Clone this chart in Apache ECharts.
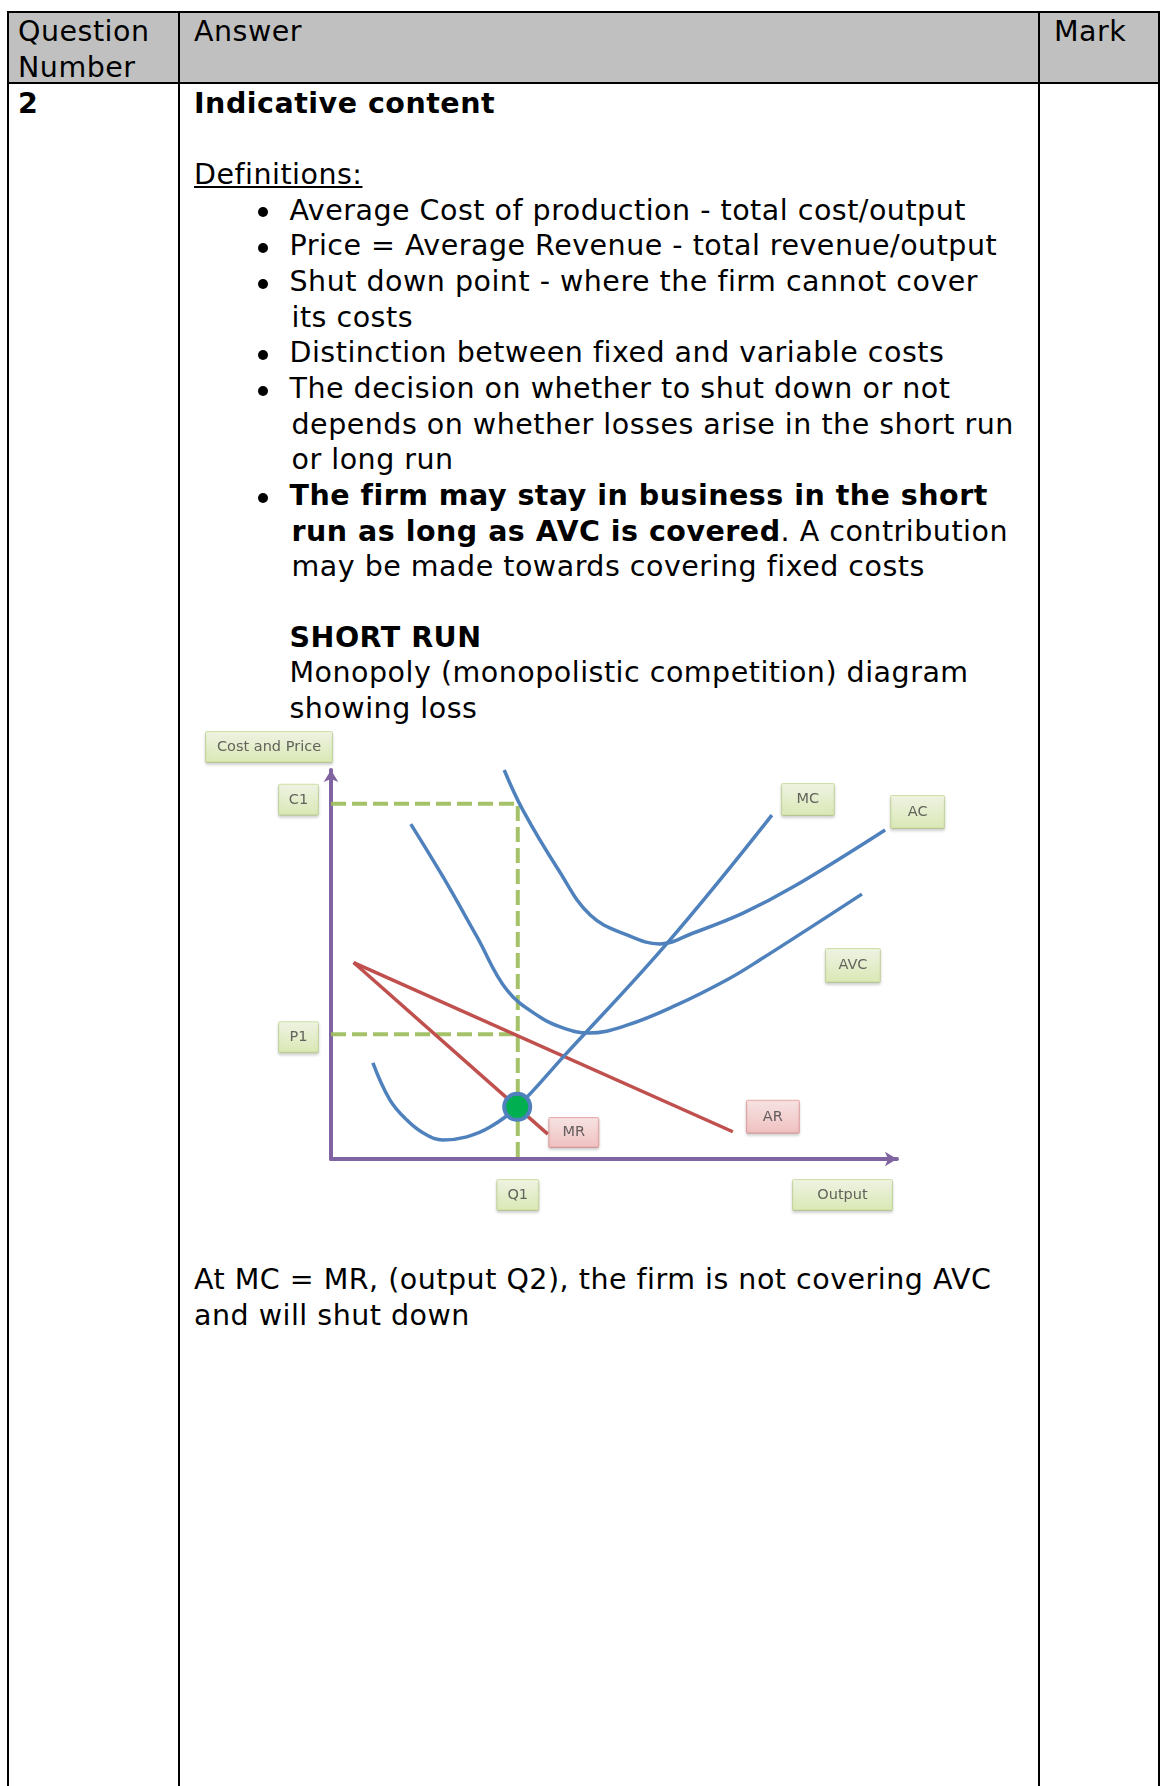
<!DOCTYPE html>
<html>
<head>
<meta charset="utf-8">
<script src="https://cdn.jsdelivr.net/npm/echarts@6/dist/echarts.min.js"></script>
<style>
  html, body { margin:0; padding:0; background:#fff; }
  body { width:1161px; height:1786px; position:relative; overflow:hidden; }
  .ln { position:absolute; background:#000; }
  .t { position:absolute; font-family:"DejaVu Sans", Verdana, sans-serif; font-size:28.5px; line-height:35.6px;
       letter-spacing:0.5px; white-space:nowrap; color:#000; }
  .b { position:absolute; width:10px; height:10px; border-radius:50%; background:#000; }
  #chart { position:absolute; left:180px; top:720px; width:800px; height:520px; }
</style>
</head>
<body>
<!-- header background -->
<div style="position:absolute;left:9px;top:13px;width:1149px;height:69px;background:#c0c0c0;"></div>
<!-- table lines -->
<div class="ln" style="left:7px;top:11px;width:1153px;height:2px;"></div>
<div class="ln" style="left:7px;top:82px;width:1153px;height:2px;"></div>
<div class="ln" style="left:7px;top:11px;width:2px;height:1775px;"></div>
<div class="ln" style="left:178px;top:11px;width:2px;height:1775px;"></div>
<div class="ln" style="left:1038px;top:11px;width:2px;height:1775px;"></div>
<div class="ln" style="left:1158px;top:11px;width:2px;height:1775px;"></div>

<div id="text"></div>
<div id="chart"></div>

<script>
// ---------- text content (real text) ----------
const textLines = [
  // [x, baseline, html, bullet]
  [18, 41.7, 'Question', false],
  [18, 77.5, 'Number', false],
  [194, 41.7, 'Answer', false],
  [1054, 41.7, 'Mark', false],
  [18, 114, '<b>2</b>', false],
  [194, 114, '<b>Indicative content</b>', false],
  [194, 184.6, '<u>Definitions:</u>', false],
  [289.5, 220.3, 'Average Cost of production - total cost/output', true],
  [289.5, 256.0, 'Price = Average Revenue - total revenue/output', true],
  [289.5, 291.6, 'Shut down point - where the firm cannot cover', true],
  [291.5, 327.3, 'its costs', false],
  [289.5, 363.0, 'Distinction between fixed and variable costs', true],
  [289.5, 398.6, 'The decision on whether to shut down or not', true],
  [291.5, 434.3, 'depends on whether losses arise in the short run', false],
  [291.5, 470.0, 'or long run', false],
  [289.5, 505.7, '<b>The firm may stay in business in the short</b>', true],
  [291.5, 541.3, '<b>run as long as AVC is covered</b>. A contribution', false],
  [291.5, 577.0, 'may be made towards covering fixed costs', false],
  [289.5, 647.3, '<b>SHORT RUN</b>', false],
  [289.5, 683.0, 'Monopoly (monopolistic competition) diagram', false],
  [289.5, 718.7, 'showing loss', false],
  [194, 1289.5, 'At MC = MR, (output Q2), the firm is not covering AVC', false],
  [194, 1326.0, 'and will shut down', false]
];
const tc = document.getElementById('text');
textLines.forEach(function (l) {
  const d = document.createElement('div');
  d.className = 't';
  d.style.left = l[0] + 'px';
  d.style.top = (l[1] - 27.65) + 'px';
  d.innerHTML = l[2];
  tc.appendChild(d);
  if (l[3]) {
    const b = document.createElement('div');
    b.className = 'b';
    b.style.left = (263 - 5) + 'px';
    b.style.top = (l[1] - 8 - 5) + 'px';
    tc.appendChild(b);
  }
});

// ---------- chart data ----------
const Q1 = 33;
const C1 = 91.3;
const P1 = 32.1;
const mcCurve  = [[7.4,24.7],[10.4,15.2],[13.4,10.0],[16.3,6.7],[19.8,4.9],[24.0,5.7],[28.1,8.2],[32.9,13.4],[41.0,26.2],[59.4,55.5],[77.9,88.4]];
const acCurve  = [[30.6,100],[33.9,89.7],[40.2,74.3],[45.8,62.7],[52.3,57.6],[58.1,55.3],[64.0,58.1],[72.8,63.2],[81.6,69.9],[97.9,84.6]];
const avcCurve = [[14.1,86.1],[19.8,72.5],[25.8,57.1],[31.1,43.4],[36.9,36.5],[41.0,33.7],[45.5,32.4],[52.3,34.4],[61.1,39.6],[69.9,46.0],[75.8,51.2],[93.8,68.1]];
const arLine   = [[4,50.5],[71,7]];
const mrLine   = [[4,50.5],[38.3,6.4]];
const eqPoint  = [32.9, 13.4];
const labelNames = ['Cost and Price','C1','P1','Q1','Output','MC','AC','AVC','MR','AR'];

// ---------- styles / layout ----------
const BLUE = '#4f81bd', RED = '#c0504d', GREEN = '#9bbb59', PURPLE = '#8064a2';
const greenBg = new echarts.graphic.LinearGradient(0,0,0,1,[{offset:0,color:'#f4f9e6'},{offset:1,color:'#d9ebaa'}]);
const pinkBg  = new echarts.graphic.LinearGradient(0,0,0,1,[{offset:0,color:'#fde6e6'},{offset:1,color:'#f5b9b9'}]);
// anchor point, offset, box size, theme
const labelLayout = {
  'Cost and Price': {at:[0,100],                         off:[-62,-23],  w:128, h:32, pink:false},
  'C1':     {at:[0,C1],                                  off:[-32.5,-4], w:41,  h:32, pink:false},
  'P1':     {at:[0,P1],                                  off:[-32.5,3],  w:41,  h:32, pink:false},
  'Q1':     {at:[Q1,0],                                  off:[0,36],     w:43,  h:32, pink:false},
  'Output': {at:[100,0],                                 off:[-54.5,36], w:101, h:32, pink:false},
  'MC':     {at:mcCurve[mcCurve.length-1],               off:[36,-15.5], w:54,  h:33, pink:false},
  'AC':     {at:acCurve[acCurve.length-1],               off:[32.5,-18], w:55,  h:34, pink:false},
  'AVC':    {at:avcCurve[avcCurve.length-1],             off:[-9,71.5],  w:56,  h:35, pink:false},
  'MR':     {at:mrLine[mrLine.length-1],                 off:[26,-1.5],  w:51,  h:31, pink:true},
  'AR':     {at:arLine[arLine.length-1],                 off:[40,-15],   w:54,  h:34, pink:true}
};

const labelData = labelNames.map(function (n) {
  const L = labelLayout[n];
  return {
    name: n,
    value: L.at,
    label: {
      show: true, position: 'inside', formatter: n, offset: L.off,
      width: L.w - 2, height: L.h - 2, lineHeight: L.h - 2,
      align: 'center', verticalAlign: 'middle',
      fontFamily: 'DejaVu Sans', fontSize: 14.5, color: '#404040',
      backgroundColor: L.pink ? pinkBg : greenBg,
      borderColor: L.pink ? '#e39b9b' : '#c5d99a', borderWidth: 1, borderRadius: 1,
      shadowColor: 'rgba(0,0,0,0.18)', shadowBlur: 3, shadowOffsetY: 2
    }
  };
});

const axisCommon = {
  type: 'value', min: 0, max: 100,
  axisLine: { show: true, symbol: ['none','arrow'], symbolSize: [11,12], lineStyle: { color: PURPLE, width: 4 } },
  axisTick: { show: false }, axisLabel: { show: false }, splitLine: { show: false }
};

const chart = echarts.init(document.getElementById('chart'), null, {renderer: 'canvas'});
chart.setOption({
  animation: false,
  grid: { left: 151, top: 50, width: 566, height: 389 },
  xAxis: axisCommon,
  yAxis: axisCommon,
  series: [
    { type:'line', data:[[0,C1],[Q1,C1],[Q1,0]], showSymbol:false, z:1,
      lineStyle:{ color:GREEN, width:4, type:[15,6], opacity:0.9 } },
    { type:'line', data:[[0,P1],[Q1,P1]], showSymbol:false, z:1,
      lineStyle:{ color:GREEN, width:4, type:[15,6], opacity:0.9 } },
    { type:'line', data:arLine, showSymbol:false, z:2, lineStyle:{ color:RED, width:3.5 } },
    { type:'line', data:mrLine, showSymbol:false, z:2, lineStyle:{ color:RED, width:3.5 } },
    { type:'line', data:mcCurve, smooth:0.4, showSymbol:false, z:3, lineStyle:{ color:BLUE, width:3.5 } },
    { type:'line', data:acCurve, smooth:0.4, showSymbol:false, z:3, lineStyle:{ color:BLUE, width:3.5 } },
    { type:'line', data:avcCurve, smooth:0.4, showSymbol:false, z:3, lineStyle:{ color:BLUE, width:3.5 } },
    { type:'scatter', data:[eqPoint], symbolSize:26, z:4,
      itemStyle:{ color:'#00b050', borderColor:BLUE, borderWidth:4, opacity:1 } },
    { type:'scatter', data:labelData, symbolSize:0, clip:false, z:5,
      itemStyle:{ color:'transparent' } }
  ]
});
</script>
</body>
</html>
